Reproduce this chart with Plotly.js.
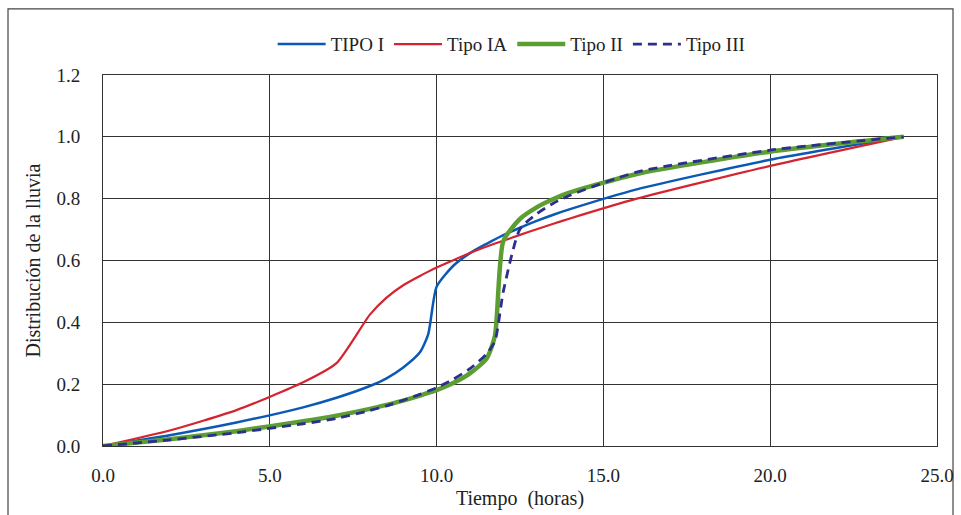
<!DOCTYPE html>
<html>
<head>
<meta charset="utf-8">
<script src="https://cdn.plot.ly/plotly-3.0.1.min.js"></script>
<style>html,body{margin:0;padding:0;background:#fff;}#chart{width:961px;height:515px;}</style>
</head>
<body>
<div id="chart"></div>
<script>
// Time (hours) for each series
const tTipoI  = [0, 2, 4, 6, 7, 8, 8.5, 9, 9.5, 9.75, 10, 10.5, 11, 11.5, 12, 12.5, 13, 13.5, 14, 16, 20, 24];
const yTipoI  = [0, 0.035, 0.076, 0.125, 0.156, 0.194, 0.219, 0.254, 0.303, 0.362, 0.515, 0.583, 0.624, 0.654, 0.682, 0.706, 0.728, 0.748, 0.766, 0.830, 0.926, 1.0];

const tTipoIA = [0, 2, 4, 6, 7, 8, 8.5, 9, 9.5, 9.75, 10, 10.5, 11, 11.5, 12, 12.5, 13, 13.5, 14, 16, 20, 24];
const yTipoIA = [0, 0.050, 0.116, 0.206, 0.268, 0.425, 0.480, 0.520, 0.550, 0.564, 0.577, 0.601, 0.624, 0.645, 0.664, 0.683, 0.701, 0.719, 0.736, 0.800, 0.906, 1.0];

const tTipoII = [0, 2, 4, 6, 7, 8, 8.5, 9, 9.5, 9.75, 10, 10.5, 11, 11.5, 11.75, 12, 12.5, 13, 13.5, 14, 16, 20, 24];
const yTipoII = [0, 0.022, 0.048, 0.080, 0.098, 0.120, 0.133, 0.147, 0.163, 0.172, 0.181, 0.204, 0.235, 0.283, 0.357, 0.663, 0.735, 0.772, 0.799, 0.820, 0.880, 0.952, 1.0];

const tTipoIII = [0, 2, 4, 6, 7, 8, 8.5, 9, 9.5, 9.75, 10, 10.5, 11, 11.5, 11.75, 12, 12.5, 13, 13.5, 14, 16, 20, 24];
const yTipoIII = [0, 0.020, 0.043, 0.072, 0.089, 0.115, 0.130, 0.148, 0.167, 0.178, 0.189, 0.216, 0.250, 0.298, 0.339, 0.500, 0.702, 0.751, 0.785, 0.811, 0.886, 0.957, 1.0];

const xTicks = [0, 5, 10, 15, 20, 25];
const yTicks = [0, 0.2, 0.4, 0.6, 0.8, 1.0, 1.2];

const font = "Liberation Serif";

const traces = [
  {x: tTipoI, y: yTipoI, name: 'TIPO I', mode: 'lines', line: {color: '#0b59b5', width: 2.5, shape: 'spline', smoothing: 0.6}},
  {x: tTipoIA, y: yTipoIA, name: 'Tipo IA', mode: 'lines', line: {color: '#d3242f', width: 2.2, shape: 'spline', smoothing: 0.6}},
  {x: tTipoII, y: yTipoII, name: 'Tipo II', mode: 'lines', line: {color: '#5c9e31', width: 4.5, shape: 'spline', smoothing: 0.6}},
  {x: tTipoIII, y: yTipoIII, name: 'Tipo III', mode: 'lines', line: {color: '#2c2f8e', width: 2.8, dash: '9px,6px', shape: 'spline', smoothing: 0.6}}
];

const layout = {
  width: 961, height: 515,
  margin: {l: 103, r: 24, t: 75, b: 69},
  paper_bgcolor: '#fff', plot_bgcolor: '#fff',
  font: {family: font, size: 19, color: '#222'},
  showlegend: true,
  legend: {orientation: 'h', x: 0.49, xanchor: 'center', y: 1.083, yanchor: 'middle', font: {family: font, size: 19, color: '#222'}, traceorder: 'normal', itemwidth: 48},
  xaxis: {
    range: [0, 25], tickvals: xTicks, ticktext: xTicks.map(v => v.toFixed(1)),
    showgrid: true, gridcolor: '#333', gridwidth: 1,
    showline: true, linecolor: '#333', linewidth: 1, mirror: true,
    zeroline: false, ticks: '', ticklabelstandoff: 12,
    tickfont: {family: font, size: 19, color: '#222'},
    title: {text: 'Tiempo  (horas)', font: {family: font, size: 20, color: '#222'}, standoff: 6},
    fixedrange: true
  },
  yaxis: {
    range: [0, 1.2], tickvals: yTicks, ticktext: yTicks.map(v => v.toFixed(1)),
    showgrid: true, gridcolor: '#333', gridwidth: 1,
    showline: true, linecolor: '#333', linewidth: 1, mirror: true,
    zeroline: false, ticks: '', ticklabelstandoff: 18,
    tickfont: {family: font, size: 19, color: '#222'},
    title: {text: 'Distribución de la lluvia', font: {family: font, size: 20, color: '#222'}, standoff: 10},
    fixedrange: true
  },
  shapes: [
    {type: 'rect', xref: 'paper', yref: 'paper', x0: -0.1139, x1: 1.0192, y0: -0.25, y1: 1.178, line: {color: '#444', width: 1.2}, fillcolor: 'rgba(0,0,0,0)', layer: 'below'}
  ]
};

Plotly.newPlot('chart', traces, layout, {displayModeBar: false, staticPlot: true});
</script>
</body>
</html>
